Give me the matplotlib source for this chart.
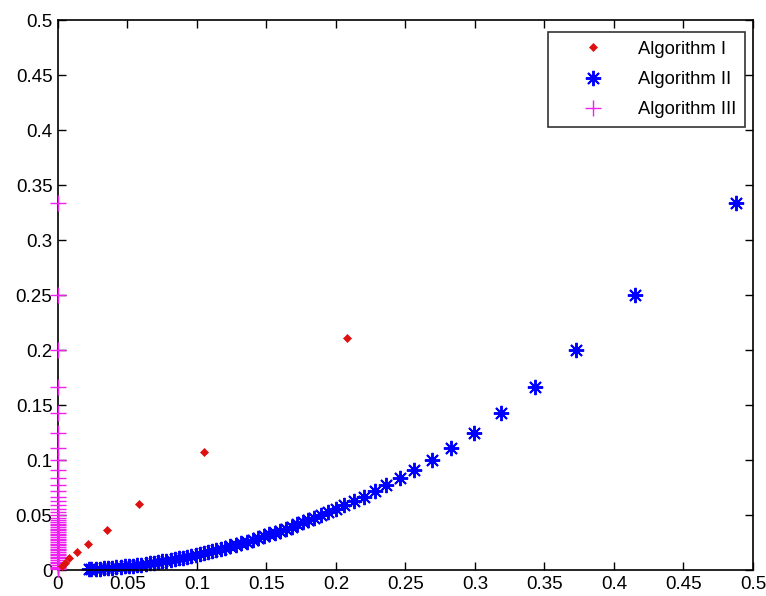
import matplotlib
matplotlib.use('Agg')
import matplotlib.pyplot as plt
from matplotlib.ticker import FuncFormatter


# Algorithm I (red diamonds)
alg1_x = [0.208, 0.105, 0.0583, 0.0355, 0.0218, 0.0134, 0.0081, 0.005, 0.003]
alg1_y = [0.211, 0.107, 0.060, 0.0366, 0.0236, 0.0167, 0.0106, 0.006, 0.004]

# Algorithm II (blue asterisks): separated points first, then the dense tail
alg2_x = [0.488, 0.415, 0.373, 0.343, 0.3185, 0.299, 0.283, 0.269, 0.256,
          0.246, 0.236, 0.228, 0.220, 0.213, 0.206, 0.200, 0.194, 0.189,
          0.184, 0.180, 0.176, 0.172, 0.168, 0.164, 0.160, 0.156, 0.152,
          0.148, 0.144, 0.140, 0.136, 0.132, 0.128, 0.124, 0.120, 0.117,
          0.114, 0.111, 0.108, 0.105, 0.102, 0.099, 0.096, 0.093, 0.090,
          0.087, 0.084, 0.081, 0.078, 0.075, 0.072, 0.069, 0.066, 0.063,
          0.060, 0.057, 0.054, 0.051, 0.048, 0.045, 0.042, 0.039, 0.036,
          0.033, 0.030, 0.027, 0.024, 0.022]
alg2_y = [0.3333, 0.25, 0.2, 0.1667, 0.1429, 0.125, 0.1111, 0.1, 0.0909,
          0.0833, 0.0769, 0.0714, 0.0667, 0.0625, 0.0588, 0.0556, 0.0526, 0.05,
          0.0474, 0.0454, 0.0434, 0.0414, 0.0395, 0.0377, 0.0358, 0.0341, 0.0323,
          0.0307, 0.0290, 0.0274, 0.0259, 0.0244, 0.0229, 0.0215, 0.0202, 0.0192,
          0.0182, 0.0173, 0.0163, 0.0154, 0.0146, 0.0137, 0.0129, 0.0121, 0.0113,
          0.0106, 0.0099, 0.0092, 0.0085, 0.0079, 0.0073, 0.0067, 0.0061, 0.0056,
          0.0050, 0.0045, 0.0041, 0.0036, 0.0032, 0.0028, 0.0025, 0.0021, 0.0018,
          0.0015, 0.0013, 0.0010, 0.0008, 0.0007]

# Algorithm III (magenta pluses) all sit on x = 0
alg3_y = [0.3333, 0.25, 0.2, 0.1667, 0.1429, 0.125, 0.1111, 0.1, 0.0909,
          0.0833, 0.0769, 0.0714, 0.0667, 0.0625, 0.0588, 0.0556, 0.0526, 0.05,
          0.0476, 0.0455, 0.0435, 0.042, 0.0405, 0.039, 0.0375, 0.036, 0.0345,
          0.033, 0.0315, 0.03, 0.0285, 0.027, 0.0255, 0.024, 0.0225, 0.021,
          0.0195, 0.018, 0.0165, 0.015, 0.0135, 0.012, 0.0105, 0.009, 0.0075,
          0.006, 0.0045, 0.003, 0.0015, 0.0005]
alg3_x = [0.0] * len(alg3_y)

ticks = [0, 0.05, 0.1, 0.15, 0.2, 0.25, 0.3, 0.35, 0.4, 0.45, 0.5]


def matlab_fmt(v, pos):
    return '{:g}'.format(round(v, 4))


def main():
    plt.rcParams['font.family'] = ['Liberation Sans', 'DejaVu Sans']
    fig = plt.figure(figsize=(7.66, 5.96), dpi=100)
    ax = fig.add_axes([0.0757, 0.0436, 0.9073, 0.9228])

    ax.plot(alg3_x, alg3_y, linestyle='none', marker='+', color='#f020f0',
            markersize=12, markeredgewidth=1.0, label='Algorithm III',
            zorder=3, clip_on=False)
    ax.plot(alg2_x, alg2_y, linestyle='none', marker=(8, 2, 0), color='#0000ff',
            markersize=11, markeredgewidth=1.4, label='Algorithm II',
            zorder=2, clip_on=False)
    ax.plot(alg1_x, alg1_y, linestyle='none', marker='D', color='#dd1111',
            markersize=4.5, markeredgewidth=0.5, label='Algorithm I',
            zorder=4, clip_on=False)

    ax.set_xlim(0, 0.5)
    ax.set_ylim(0, 0.5)
    ax.set_xticks(ticks)
    ax.set_yticks(ticks)
    ax.xaxis.set_major_formatter(FuncFormatter(matlab_fmt))
    ax.yaxis.set_major_formatter(FuncFormatter(matlab_fmt))
    ax.tick_params(direction='in', length=6, width=1, top=True, right=True,
                   labelsize=13.5, colors='black', pad=4)
    for s in ax.spines.values():
        s.set_linewidth(1.2)
        s.set_color('black')

    handles, labels = ax.get_legend_handles_labels()
    order = [2, 1, 0]
    leg = ax.legend([handles[i] for i in order], [labels[i] for i in order],
                    loc='upper right', bbox_to_anchor=(0.9885, 0.979),
                    fontsize=13.2, frameon=True, fancybox=False, shadow=False,
                    borderpad=0.5, labelspacing=0.72, handletextpad=0.5,
                    handlelength=3.9, borderaxespad=0)
    leg.get_frame().set_edgecolor('black')
    leg.get_frame().set_linewidth(1.2)

    fig.savefig('out.png', dpi=100)


if __name__ == '__main__':
    main()
